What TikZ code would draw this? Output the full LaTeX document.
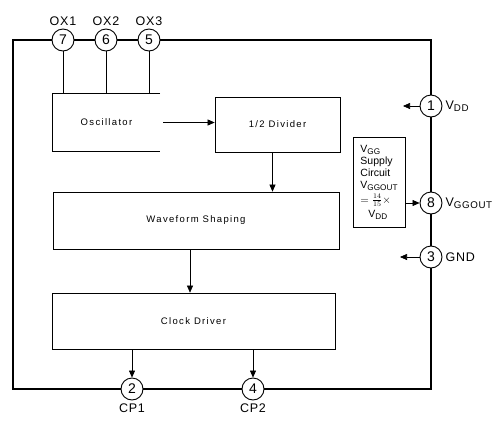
\documentclass[tikz,border=0pt]{standalone}
\usepackage{fontspec}
\setmainfont{Liberation Sans}
\usetikzlibrary{arrows.meta,positioning}
\newcommand{\blkfont}{\fontsize{9.5}{11}\selectfont\addfontfeature{LetterSpace=14}}
\newcommand{\pinsub}[1]{\raisebox{-0.35ex}{\scalebox{0.78}{#1}}}
\tikzset{
  pin/.style   ={circle,draw,line width=0.9pt,minimum size=22pt,inner sep=0pt,
                 font=\fontsize{14}{14}\selectfont},
  blk/.style   ={draw,line width=0.7pt,font=\blkfont},
  openblk/.style={font=\blkfont},
  bus/.style   ={line width=1.3pt},
  tap/.style   ={line width=0.9pt},
  sig/.style   ={-{Triangle[length=7pt,width=6pt]},line width=0.6pt},
  plbl/.style  ={font=\fontsize{12.5}{13}\selectfont\addfontfeature{LetterSpace=6},inner sep=1pt},
}
\begin{document}
\begin{tikzpicture}[x=1pt,y=-1pt]
\useasboundingbox (0,0) rectangle (499,421);
% package pins
\node[pin] (p7) at (63,40)   {7};
\node[pin] (p6) at (106,40)  {6};
\node[pin] (p5) at (149,40)  {5};
\node[pin] (p1) at (431,106) {1};
\node[pin] (p8) at (431,203) {8};
\node[pin] (p3) at (431,257) {3};
\node[pin] (p2) at (132,389) {2};
\node[pin] (p4) at (253,389) {4};
\foreach \p/\t in {p7/OX1, p6/OX2, p5/OX3}
  \node[plbl,above=2pt of \p] (l\p) {\t};
\node[plbl,below=2pt of p2] (lp2) {CP1};
\node[plbl,below=2pt of p4] (lp4) {CP2};
\node[plbl,right=2pt of p1] (lp1) {V\pinsub{DD}};
\node[plbl,right=2pt of p8] (lp8) {V\pinsub{GGOUT}};
\node[plbl,right=2pt of p3] (lp3) {GND};
% package outline
\coordinate (tl) at (13,40);
\coordinate (tr) at (431,40);
\coordinate (bl) at (13,389);
\coordinate (br) at (431,389);
\draw[bus] (tl) -- (p7) (p7) -- (p6) (p6) -- (p5) (p5) -- (tr) -- (p1)
           (p1) -- (p8) (p8) -- (p3) (p3) -- (br) -- (p4) (p4) -- (p2)
           (p2) -- (bl) -- ([yshift=0.65pt]tl);
% blocks
\node[openblk,minimum width=107,minimum height=57] (osc) at (106.5,122.5) {Oscillator};
\draw[line width=0.7pt] (osc.north east) -- (osc.north west) -- (osc.south west) -- (osc.south east);
\node[blk,minimum width=125,minimum height=55] (div) at (277.5,124.5) {1/2 Divider};
\node[blk,minimum width=286,minimum height=57] (wave) at (196,220.5) {Waveform Shaping};
\node[blk,minimum width=283,minimum height=56] (clk) at (193.5,321) {Clock Driver};
\node[blk,minimum width=52,minimum height=90,align=left,inner sep=1.5pt,
      font=\fontsize{10.5}{12}\selectfont] (vgg) at (379,182)
  {V\pinsub{GG}\\Supply\\Circuit\\V\pinsub{GGOUT}\\[3pt]$={14\over 15}\times$\\[2pt]\hspace*{8pt}V\pinsub{DD}};
% connections
\foreach \p in {p7,p6,p5}
  \draw[tap] (\p) -- (\p |- osc.north);
\draw[sig] ([xshift=3pt]osc.east) -- (osc.east -| div.west);
\draw[sig] ([xshift=-5pt]div.south) -- ([xshift=-5pt]div.south |- wave.north);
\draw[sig] ([xshift=-6pt]wave.south) -- ([xshift=-6pt]wave.south |- clk.north);
\draw[sig] (clk.south -| p2) -- (p2);
\draw[sig] (clk.south -| p4) -- (p4);
\draw[sig] (vgg.east |- p8) -- (p8);
\coordinate (vddout) at (403,106);
\coordinate (gndout) at (400,257);
\draw[sig] (p1) -- (vddout);
\draw[sig] (p3) -- (gndout);
\end{tikzpicture}
\end{document}
